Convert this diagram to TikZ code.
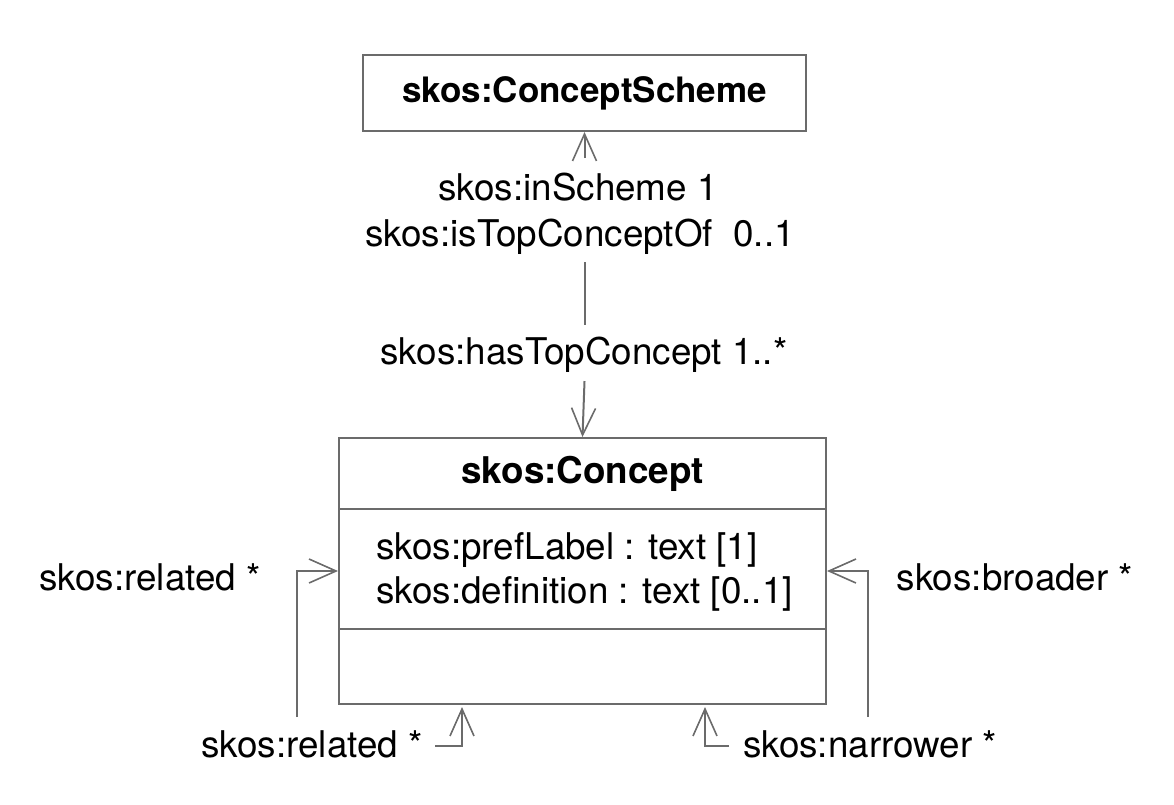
\documentclass[tikz,border=0pt]{standalone}
\usepackage{fontspec}
\setmainfont{TeX Gyre Heros}
\usepackage{xcolor}
\usetikzlibrary{arrows.meta,positioning}

\begin{document}
\begin{tikzpicture}[x=1pt,y=-1pt,
  font=\fontsize{36.8}{44}\selectfont,
  line width=2pt,
  uml/.style={draw=black!58, -{Straight Barb[length=27pt,width=24pt,line width=1.6pt]}},
  conn/.style={draw=black!58},
  box/.style={rectangle, draw=black!58, inner sep=0pt}]
\useasboundingbox (0,0) rectangle (1174,804);
% classes
\node[box, minimum width=443pt, minimum height=76pt] (scheme) at (584.5,93) {\fontsize{35}{44}\selectfont\bfseries skos:ConceptScheme};
\node[box, minimum width=487pt, minimum height=266pt] (concept) at (582.5,571) {};
\node (ctitle) at (582.5,474) {\bfseries skos:Concept};
\draw[conn] (339,509) -- (826,509);
\draw[conn] (339,629) -- (826,629);
\node[right] (pref) at (372,550) {skos:prefLabel : text [1]};
\node[right] (defn) at (372,594) {skos:definition : text [0..1]};
% inScheme / hasTopConcept
\coordinate (s1) at (584.5,158);
\coordinate (s2) at (584.5,262);
\coordinate (s3) at (584.5,325);
\coordinate (s4) at (584.5,381);
\draw[uml] (s1) -- (scheme.south);
\node (inscheme) at (578,187) {skos:inScheme 1};
\node (topof) at (580,237) {skos:isTopConceptOf~ 0..1};
\draw[conn] (s2) -- (s3);
\node (hastop) at (584,355) {skos:hasTopConcept 1..*};
\draw[uml] (s4) -- (concept.north);
% related
\coordinate (rl) at (297,717);
\coordinate (rb) at (435,746);
\coordinate (rbtip) at (462,707);
\draw[uml] (rl) |- (concept.west);
\draw[uml] (rb) -| (rbtip);
\node (related1) at (150,577) {skos:related *};
\node (related2) at (312,744) {skos:related *};
% broader / narrower
\coordinate (br) at (868,717);
\coordinate (nb) at (729,746);
\coordinate (nbtip) at (705,707);
\draw[uml] (br) |- (concept.east);
\draw[uml] (nb) -| (nbtip);
\node (broader) at (1015,577) {skos:broader *};
\node (narrower) at (870,744) {skos:narrower *};
\end{tikzpicture}
\end{document}
